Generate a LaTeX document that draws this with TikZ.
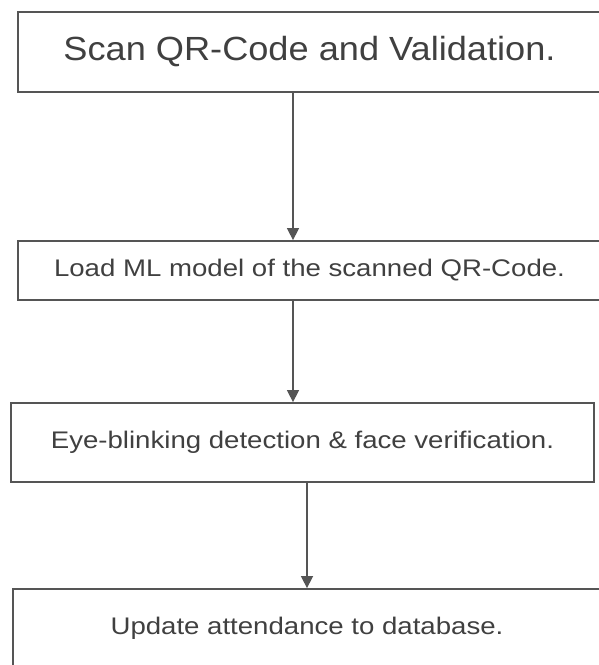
\documentclass[tikz,border=0pt]{standalone}
\usepackage{fontspec}
\setmainfont{Liberation Sans}
\newfontfamily\widefont[FakeStretch=1.15]{Liberation Sans}
\newfontfamily\titlefont[FakeStretch=1.08]{Liberation Sans}
\usetikzlibrary{arrows.meta}
\definecolor{edgegray}{HTML}{555555}
\definecolor{txtgray}{HTML}{404040}
\tikzset{
  stepbox/.style={draw=edgegray, line width=1.8pt, fill=white, rectangle, inner sep=0pt, text=txtgray},
  smalltext/.style={font=\widefont\fontsize{24}{28}\selectfont},
  arr/.style={draw=edgegray, line width=1.5pt, -{Triangle[length=12pt,width=12pt]}}
}
\begin{document}
\begin{tikzpicture}[x=1pt,y=-1pt]
\useasboundingbox[fill=white] (0,0) rectangle (598,665);
\node[stepbox, minimum width=583pt, minimum height=80pt, font=\titlefont\fontsize{33.5}{40}\selectfont] (b1) at (309.5,52) {Scan QR-Code and Validation.};
\node[stepbox, smalltext, minimum width=583pt, minimum height=59pt] (b2) at (309.5,270.5) {Load ML model of the scanned QR-Code.};
\node[stepbox, smalltext, minimum width=583pt, minimum height=79pt] (b3) at (302.5,442.5) {Eye-blinking detection \& face verification.};
\node[stepbox, smalltext, minimum width=588pt, minimum height=79pt] (b4) at (307,628.5) {Update attendance to database.};
\draw[arr] ([xshift=-16.5pt]b1.south) -- ([xshift=-16.5pt]b2.north);
\draw[arr] ([xshift=-16.5pt]b2.south) -- ([xshift=-9.5pt]b3.north);
\draw[arr] ([xshift=4.5pt]b3.south) -- (b4.north);
\end{tikzpicture}
\end{document}
